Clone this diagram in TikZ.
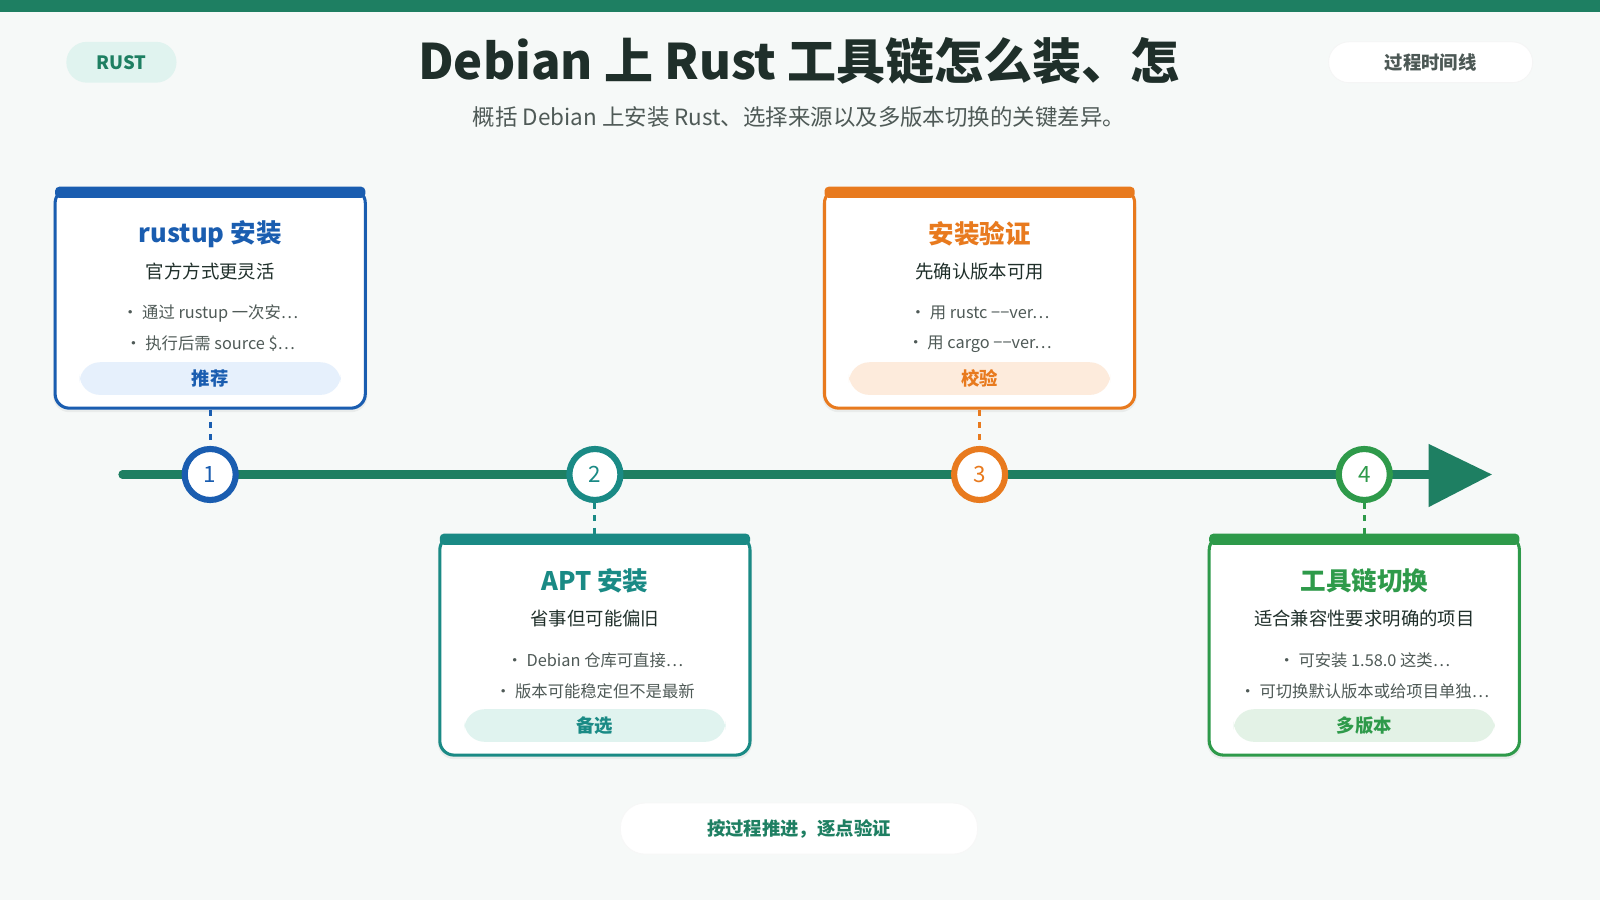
\documentclass[tikz,border=0pt]{standalone}
\usepackage{fontspec}
\setmainfont{Noto Sans CJK SC}
\definecolor{bg}{HTML}{F6F9F8}
\definecolor{main}{HTML}{1E7F62}
\definecolor{cA}{HTML}{1A5DB0}\definecolor{lA}{HTML}{E6F0FC}
\definecolor{cB}{HTML}{1A8A85}\definecolor{lB}{HTML}{E0F3EF}
\definecolor{cC}{HTML}{E87A1E}\definecolor{lC}{HTML}{FDEBDC}
\definecolor{cD}{HTML}{2E9A4A}\definecolor{lD}{HTML}{E3F2E6}
\definecolor{ink}{HTML}{1F2F2A}
\definecolor{sub}{HTML}{4F5A57}
\tikzset{
 x=0.5pt,y=-0.5pt,
 pill/.style={rounded corners=10pt,inner sep=0pt,font=\bfseries\fontsize{9}{10}\selectfont},
 card/.style={draw=#1,line width=1.5pt,fill=white,rounded corners=7pt,minimum width=152pt,minimum height=107.5pt,inner sep=0pt},
 num/.style={circle,draw=#1,line width=3pt,fill=white,minimum size=25pt,inner sep=0pt,text=#1,font=\fontsize{11}{12}\selectfont},
 dash/.style={draw=#1,line width=1.5pt,dash pattern=on 3pt off 3pt},
 ctitle/.style={font=\bfseries\fontsize{12.5}{14}\selectfont,text=#1},
 csub/.style={font=\fontsize{9}{10}\selectfont,text=ink},
 bul/.style={font=\fontsize{8}{9}\selectfont,text=sub},
}
\newcommand{\mycard}[9]{%
 \fill[black,opacity=0.05,rounded corners=8pt] (#1-154,#2+2) rectangle (#1+154,#2+219);
 \node[card=#3] (card#9) at (#1,#2+107.5) {};
 \fill[#3,rounded corners=2pt] (#1-152,#2-2) rectangle (#1+152,#2+9);
 \node[ctitle=#3] (t#9) at (#1,#2+44) {#5};
 \node[csub] (s#9) at (#1,#2+81) {#6};
 \node[bul] (ba#9) at (#1,#2+122) {\textbullet\ #7};
 \node[bul] (bb#9) at (#1,#2+152) {\textbullet\ #8};
 \node[pill,fill=#4,minimum width=128pt,minimum height=16pt] (tag#9) at (#1,#2+186) {};
}
\begin{document}
\begin{tikzpicture}
\fill[bg] (0,0) rectangle (1568,882);
\useasboundingbox (0,0) rectangle (1568,882);
\fill[main] (0,0) rectangle (1568,12);
\node[pill,fill=lB,text=main,minimum width=54pt,minimum height=20pt] (rust) at (119,61) {RUST};
\node[font=\bfseries\fontsize{24}{28}\selectfont,text=ink] (title) at (783,60) {Debian 上 Rust 工具链怎么装、怎};
\node[font=\fontsize{11}{13}\selectfont,text=sub] (subt) at (783,115) {概括 Debian 上安装 Rust、选择来源以及多版本切换的关键差异。};
\node[pill,fill=white,draw=black!4,text=ink!80,minimum width=100pt,minimum height=20pt] (tl) at (1402,61) {过程时间线};
\coordinate (ls) at (120,465);
\coordinate (le) at (1405,465);
\draw[main,line width=4pt,line cap=round] (ls) -- (le);
\fill[main] (1400,435) -- (1462,465) -- (1400,497) -- cycle;
\mycard{206}{185}{cA}{lA}{rustup 安装}{官方方式更灵活}{通过 rustup 一次安…}{执行后需 source \$…}{1}
\node[pill,text=cA] (tx1) at (tag1) {推荐};
\mycard{583}{525}{cB}{lB}{APT 安装}{省事但可能偏旧}{Debian 仓库可直接…}{版本可能稳定但不是最新}{2}
\node[pill,text=cB] (tx2) at (tag2) {备选};
\mycard{960}{185}{cC}{lC}{安装验证}{先确认版本可用}{用 rustc −−ver…}{用 cargo −−ver…}{3}
\node[pill,text=cC] (tx3) at (tag3) {校验};
\mycard{1337}{525}{cD}{lD}{工具链切换}{适合兼容性要求明确的项目}{可安装 1.58.0 这类…}{可切换默认版本或给项目单独…}{4}
\node[pill,text=cD] (tx4) at (tag4) {多版本};
\node[num=cA] (n1) at (206,465) {1};
\node[num=cB] (n2) at (583,465) {2};
\node[num=cC] (n3) at (960,465) {3};
\node[num=cD] (n4) at (1337,465) {4};
\draw[dash=cA] (card1.south) -- (n1.north);
\draw[dash=cB] (n2.south) -- (card2.north);
\draw[dash=cC] (card3.south) -- (n3.north);
\draw[dash=cD] (n4.south) -- (card4.north);
\node[pill,fill=white,draw=black!3,text=main,minimum width=175pt,minimum height=25pt,rounded corners=12pt] (foot) at (783,812) {按过程推进，逐点验证};
\end{tikzpicture}
\end{document}
